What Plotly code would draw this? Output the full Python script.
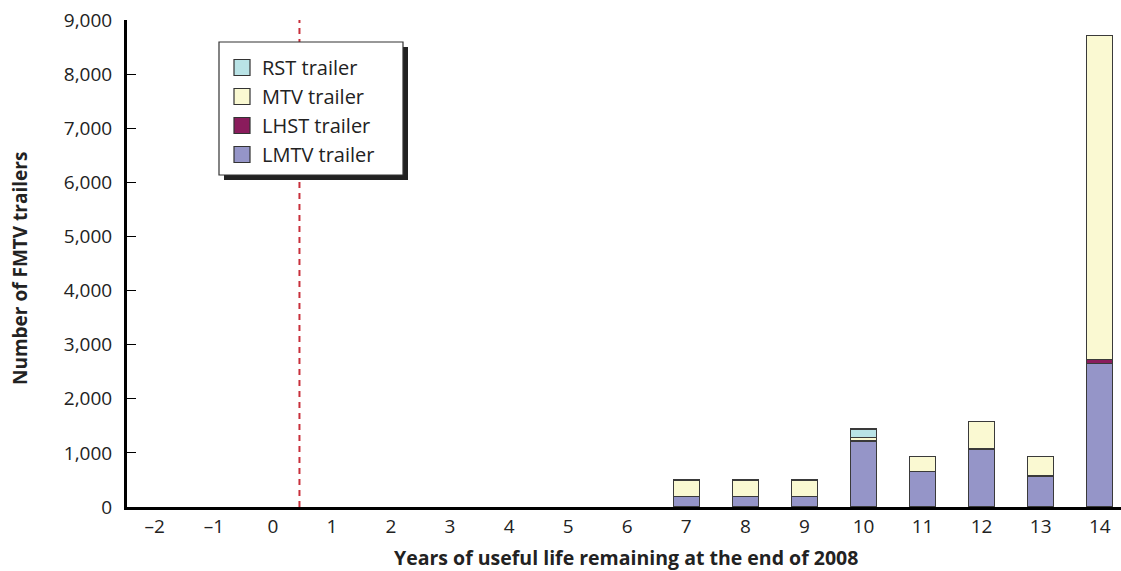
import plotly.graph_objects as go

# years of useful life remaining at end of 2008
years = [-2, -1, 0, 1, 2, 3, 4, 5, 6, 7, 8, 9, 10, 11, 12, 13, 14]
year_labels = ["\u20132", "\u20131", "0", "1", "2", "3", "4", "5", "6",
               "7", "8", "9", "10", "11", "12", "13", "14"]

# trailer counts by type (stack order bottom -> top), None = no bar
lmtv = [None] * 9 + [200, 200, 200, 1220, 650, 1070, 570, 2650]
lhst = [None] * 9 + [None, None, None, None, None, None, 10, 80]
mtv = [None] * 9 + [300, 300, 300, 70, 280, 510, 350, 5980]
rst = [None] * 9 + [None, None, None, 150, None, None, None, None]

series = [
    ("LMTV trailer", lmtv, "#9595C8"),
    ("LHST trailer", lhst, "#8A1C5C"),
    ("MTV trailer", mtv, "#FAF9D2"),
    ("RST trailer", rst, "#B9E3E6"),
]

W, H = 1121, 571
ml, mr, mt, mb = 127, 0, 20, 64
pw, ph = W - ml - mr, H - mt - mb


def px_x(p):
    return (p - ml) / pw


def px_y(p):
    return (H - mb - p) / ph


fig = go.Figure()
for name, vals, color in series:
    fig.add_trace(go.Bar(
        x=years, y=vals, name=name, showlegend=False,
        marker=dict(color=color, line=dict(color="#3a3a3a", width=1.3)),
        width=0.44,
    ))
# legend entries with larger square swatches
for name, vals, color in series:
    fig.add_trace(go.Scatter(
        x=[None], y=[None], name=name, mode="markers",
        marker=dict(symbol="square", size=17, color=color,
                    line=dict(color="#333333", width=1.2)),
    ))

# end of 2008 marker
fig.add_shape(type="line", x0=0.45, x1=0.45, y0=0, y1=1, xref="x", yref="paper",
              line=dict(color="#C8303C", width=2, dash="6px,5px"), layer="below")

# legend box with drop shadow
fig.add_shape(type="rect", xref="paper", yref="paper",
              x0=px_x(224), x1=px_x(408), y0=px_y(180), y1=px_y(47),
              fillcolor="#222222", line=dict(width=0), layer="above")
fig.add_shape(type="rect", xref="paper", yref="paper",
              x0=px_x(219), x1=px_x(403), y0=px_y(175), y1=px_y(42),
              fillcolor="white", line=dict(color="#333333", width=1.2), layer="above")

# axis titles
fig.add_annotation(text="<b>Years of useful life remaining at the end of 2008</b>",
                   xref="paper", yref="paper", x=px_x(626), y=px_y(557),
                   showarrow=False, font=dict(size=19.5), yanchor="middle")
fig.add_annotation(text="<b>Number of FMTV trailers</b>",
                   xref="paper", yref="paper", x=px_x(20), y=px_y(269),
                   showarrow=False, font=dict(size=19), textangle=-90,
                   xanchor="center", yanchor="middle")

fig.update_layout(
    width=W, height=H,
    margin=dict(l=ml, r=mr, t=mt, b=mb),
    barmode="stack",
    plot_bgcolor="white", paper_bgcolor="white",
    font=dict(family="Open Sans", size=19, color="#222222"),
    showlegend=True,
    legend=dict(x=px_x(222), y=px_y(48), xanchor="left", yanchor="top",
                traceorder="reversed", bgcolor="rgba(0,0,0,0)",
                font=dict(size=20), itemsizing="trace", tracegroupgap=0),
    xaxis=dict(
        range=[-2.47, 14.36],
        tickmode="array", tickvals=years, ticktext=year_labels,
        showline=True, linecolor="black", linewidth=3,
        ticks="", showgrid=False, zeroline=False, ticklabelstandoff=0,
    ),
    yaxis=dict(
        range=[0, 9000], tickmode="linear", tick0=0, dtick=1000,
        tickformat=",d",
        showline=True, linecolor="black", linewidth=3,
        ticks="inside", ticklen=9, tickcolor="black", tickwidth=1,
        showgrid=False, zeroline=False, ticklabelstandoff=8,
    ),
)

fig.write_html("out.html", config={"displayModeBar": False},
               post_script="document.body.style.margin='0';")
